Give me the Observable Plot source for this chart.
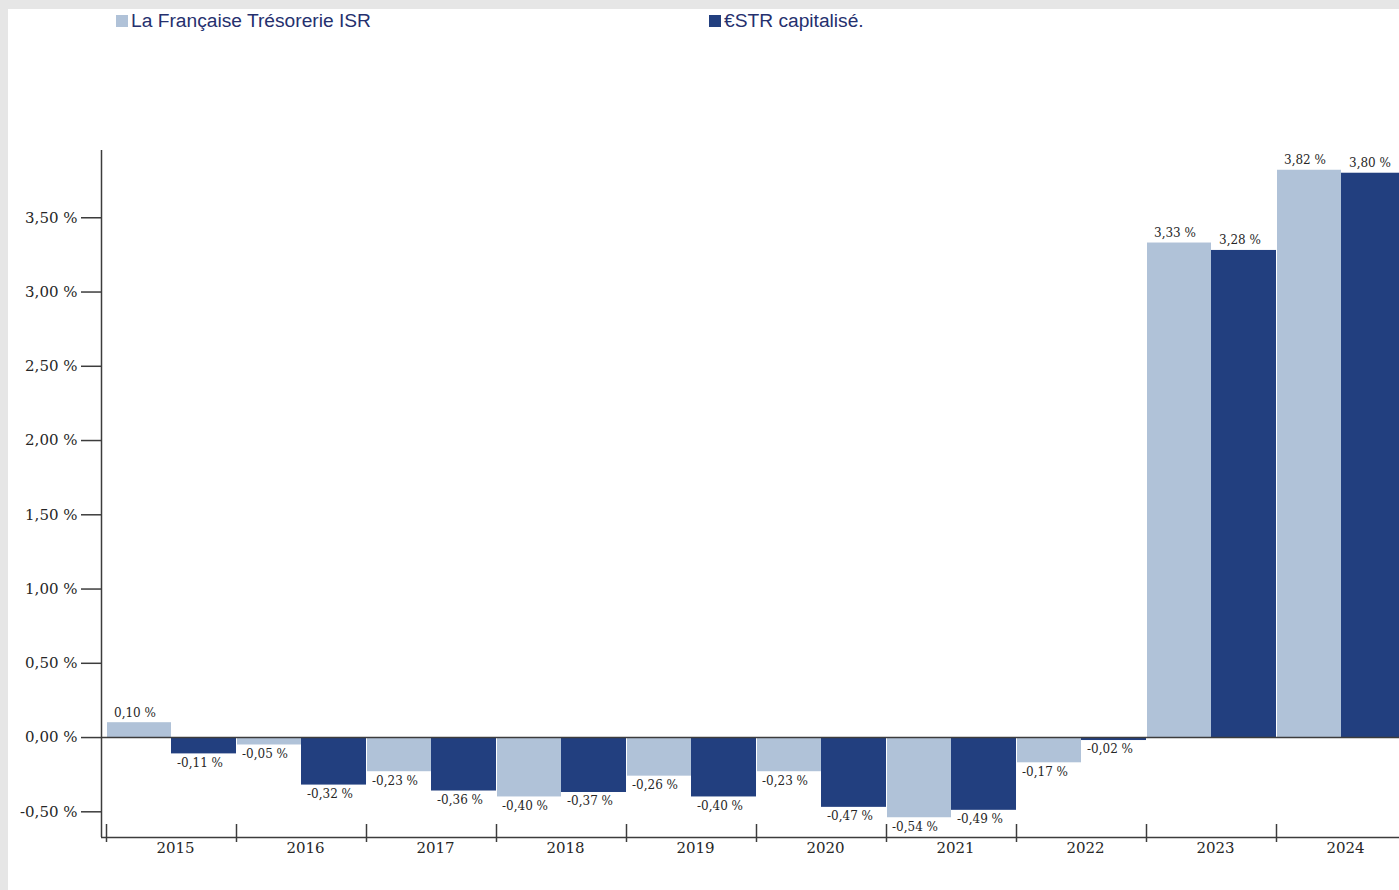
<!DOCTYPE html>
<html>
<head>
<meta charset="utf-8">
<script src="https://cdn.jsdelivr.net/npm/d3@7"></script>
<script src="https://cdn.jsdelivr.net/npm/@observablehq/plot@0.6"></script>
<style>
  html, body { margin: 0; padding: 0; overflow: hidden; background: #e6e6e6; }
  #page { position: absolute; left: 8px; top: 9px; width: 1391px; height: 881px; background: #ffffff; }
  #legend { position: relative; height: 39px; font-family: "Liberation Sans", Arial, sans-serif; font-size: 19.2px; color: #25306e; }
  .item { position: absolute; top: 1px; display: flex; align-items: center; white-space: nowrap; }
  .sw { width: 12px; height: 12px; margin-right: 3px; }
  #chart svg { display: block; }
</style>
</head>
<body>
<div id="page">
  <div id="legend"></div>
  <div id="chart"></div>
</div>
<script>
const years = ["2015", "2016", "2017", "2018", "2019", "2020", "2021", "2022", "2023", "2024"];
const fundValues = [0.10, -0.05, -0.23, -0.40, -0.26, -0.23, -0.54, -0.17, 3.33, 3.82];
const estrValues = [-0.11, -0.32, -0.36, -0.37, -0.40, -0.47, -0.49, -0.02, 3.28, 3.80];
const seriesNames = ["La Française Trésorerie ISR", "€STR capitalisé."];
const seriesColors = ["#b0c2d8", "#223f7f"];
const yTicks = [-0.5, 0, 0.5, 1, 1.5, 2, 2.5, 3, 3.5];

const fmt = v => v.toFixed(2).replace(".", ",") + " %";

const rows = years.flatMap((year, i) => [
  {year, i, s: 0, value: fundValues[i]},
  {year, i, s: 1, value: estrValues[i]}
]);

// legend
const legend = document.getElementById("legend");
const legendLeft = [108, 701];
seriesNames.forEach((name, k) => {
  const it = document.createElement("div");
  it.className = "item";
  it.style.left = legendLeft[k] + "px";
  it.innerHTML = `<span class="sw" style="background:${seriesColors[k]}"></span><span>${name}</span>`;
  legend.appendChild(it);
});

const W = 1391, H = 842;
const mTop = 102, mBottom = 53, mLeft = 93;
const yDomain = [-0.673, 3.953];
const pxPerUnit = (H - mTop - mBottom) / (yDomain[1] - yDomain[0]);
const xCenter = d => d.i + d.s / 2 + 0.25;
const axisColor = "#3c3c3c";

const chart = Plot.plot({
  width: W,
  height: H,
  marginTop: mTop,
  marginBottom: mBottom,
  marginLeft: mLeft,
  marginRight: 0,
  style: {fontFamily: "'DejaVu Serif', serif", fontSize: "15px", color: "#262626", background: "#ffffff"},
  x: {type: "linear", domain: [0, years.length], range: [98, 98 + 130 * years.length]},
  y: {domain: yDomain},
  marks: [
    Plot.rect(rows.filter(d => d.s === 0), {
      x1: d => d.i, x2: d => d.i + 0.5, y1: 0, y2: "value",
      fill: seriesColors[0], insetLeft: 1
    }),
    Plot.rect(rows.filter(d => d.s === 1), {
      x1: d => d.i + 0.5, x2: d => d.i + 1, y1: 0, y2: "value",
      fill: seriesColors[1]
    }),
    Plot.ruleY([0], {stroke: axisColor, strokeWidth: 1.5}),
    Plot.ruleY([yDomain[0]], {stroke: axisColor, strokeWidth: 1.5}),
    Plot.ruleX([0], {dx: -5, stroke: axisColor, strokeWidth: 1.5}),
    Plot.ruleX(d3.range(0, years.length + 1), {
      x: d => d,
      y1: yDomain[0] + 13 / pxPerUnit,
      y2: yDomain[0] - 5 / pxPerUnit,
      stroke: axisColor, strokeWidth: 1.5
    }),
    Plot.axisY({
      ticks: yTicks, tickFormat: fmt, tickSize: 20, tickPadding: 4,
      label: null, stroke: axisColor, strokeWidth: 1.5, fontSize: 15
    }),
    Plot.axisX({
      ticks: years.map((y, i) => i + 0.5),
      tickFormat: d => years[Math.floor(d)],
      tickSize: 0, tickPadding: 5, label: null, fontSize: 15, dx: 4
    }),
    Plot.text(rows.filter(d => d.value >= 0), {
      x: xCenter, y: "value", text: d => fmt(d.value), dy: -10, dx: -4, fontSize: 12, fill: "#262626"
    }),
    Plot.text(rows.filter(d => d.value < 0), {
      x: xCenter, y: "value", text: d => fmt(d.value), dy: 9, dx: -4, fontSize: 12, fill: "#262626"
    })
  ]
});
document.getElementById("chart").appendChild(chart);
</script>
</body>
</html>
